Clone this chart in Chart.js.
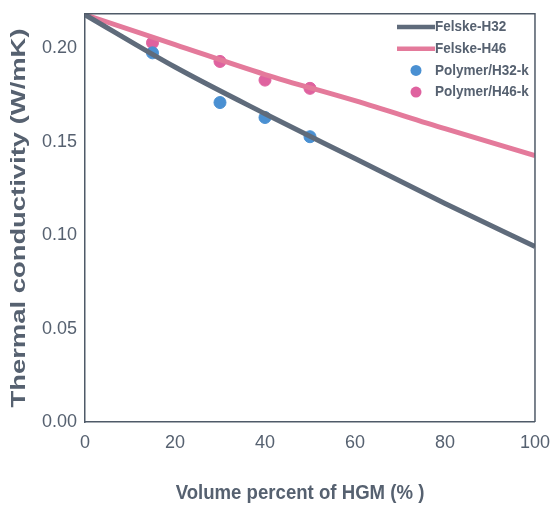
<!DOCTYPE html>
<html>
<head>
<meta charset="utf-8">
<script src="https://cdn.jsdelivr.net/npm/chart.js@4"></script>
<style>
  body { margin: 0; background: #fff; }
  #wrap { width: 552px; height: 508px; position: relative; }
</style>
</head>
<body>
<div id="wrap"><canvas id="chart"></canvas></div>
<script>
// model curves (Felske)
const modelX = [0, 20, 40, 60, 80, 100];
const felskeH32 = [0.218, 0.190, 0.165, 0.141, 0.117, 0.094];
const felskeH46 = [0.218, 0.202, 0.186, 0.172, 0.157, 0.1426];

// measured points
const measX = [15, 30, 40, 50];
const polyH32 = [0.1976, 0.171, 0.163, 0.1527];
const polyH46 = [0.203, 0.193, 0.183, 0.1786];

const xTicks = [0, 20, 40, 60, 80, 100];
const yTicks = [0, 0.05, 0.10, 0.15, 0.20];

const xTitle = "Volume percent of HGM (% )";
const yTitle = "Thermal conductivity (W/mK)";

const axisColor = "#4f5a68";
const textColor = "#566170";
const tickFont = { family: "'Liberation Sans', Arial", size: 18 };

const legendItems = [
    { label: "Felske-H32", type: "line", color: "#5f6b7b" },
    { label: "Felske-H46", type: "line", color: "#e47a9b" },
    { label: "Polymer/H32-k", type: "point", color: "#4a90d2" },
    { label: "Polymer/H46-k", type: "point", color: "#df629f" }
];

const pairs = (xs, ys) => xs.map((x, i) => ({ x: x, y: ys[i] }));

const framePlugin = {
    id: "frame",
    afterDraw(chart) {
        const ctx = chart.ctx;
        const a = chart.chartArea;
        ctx.save();
        ctx.strokeStyle = axisColor;
        ctx.lineWidth = 1.5;
        ctx.beginPath();
        ctx.moveTo(a.left, a.top);
        ctx.lineTo(a.right, a.top);
        ctx.lineTo(a.right, a.bottom);
        ctx.stroke();

        // axis titles (the original is stretched a bit vertically)
        ctx.fillStyle = textColor;
        ctx.textAlign = "center";
        ctx.textBaseline = "middle";
        ctx.font = "bold 20px 'Liberation Sans', Arial";
        ctx.save();
        ctx.translate(300, 493);
        ctx.scale(0.93, 1.05);
        ctx.fillText(xTitle, 0, 0);
        ctx.restore();

        ctx.save();
        ctx.translate(19, 218);
        ctx.rotate(-Math.PI / 2);
        ctx.scale(1.37, 1);
        ctx.fillText(yTitle, 0, 0);
        ctx.restore();

        // legend
        ctx.textAlign = "left";
        ctx.font = "bold 15px 'Liberation Sans', Arial";
        let y = 27;
        legendItems.forEach(item => {
            ctx.fillStyle = item.color;
            ctx.strokeStyle = item.color;
            if (item.type === "line") {
                ctx.lineWidth = 4.5;
                ctx.beginPath();
                ctx.moveTo(397, y);
                ctx.lineTo(435, y);
                ctx.stroke();
            } else {
                ctx.beginPath();
                ctx.arc(416, y, 5.5, 0, Math.PI * 2);
                ctx.fill();
            }
            ctx.fillStyle = textColor;
            ctx.save();
            ctx.translate(435, y);
            ctx.scale(0.9, 1);
            ctx.fillText(item.label, 0, 0);
            ctx.restore();
            y += 21.7;
        });
        ctx.restore();
    }
};

new Chart(document.getElementById("chart"), {
    type: "scatter",
    data: {
        datasets: [
            {
                label: "Felske-H32", type: "line", data: pairs(modelX, felskeH32),
                borderColor: "#5f6b7b", borderWidth: 5, pointRadius: 0, cubicInterpolationMode: "monotone"
            },
            {
                label: "Felske-H46", type: "line", data: pairs(modelX, felskeH46),
                borderColor: "#e47a9b", borderWidth: 5, pointRadius: 0, cubicInterpolationMode: "monotone"
            },
            {
                label: "Polymer/H32-k", data: pairs(measX, polyH32),
                backgroundColor: "#4a90d2", borderColor: "#4a90d2", pointRadius: 6
            },
            {
                label: "Polymer/H46-k", data: pairs(measX, polyH46),
                backgroundColor: "#df629f", borderColor: "#df629f", pointRadius: 6
            }
        ]
    },
    options: {
        responsive: true,
        maintainAspectRatio: false,
        animation: false,
        layout: { padding: { top: 8.5, right: 16, left: 0, bottom: 0 } },
        plugins: { legend: { display: false }, tooltip: { enabled: false } },
        scales: {
            x: {
                type: "linear", min: 0, max: 100,
                afterBuildTicks: s => { s.ticks = xTicks.map(v => ({ value: v })); },
                afterFit: s => { s.height = 86; },
                grid: { display: false, drawOnChartArea: false, drawTicks: true, tickLength: 8, tickColor: axisColor },
                border: { color: axisColor, width: 1.5 },
                ticks: { color: textColor, font: tickFont, padding: 2 },
                title: { display: false }
            },
            y: {
                type: "linear", min: 0, max: 0.2185,
                afterBuildTicks: s => { s.ticks = yTicks.map(v => ({ value: v })); },
                afterFit: s => { s.width = 85; },
                grid: { display: false, drawOnChartArea: false, drawTicks: true, tickLength: 5, tickColor: axisColor },
                border: { color: axisColor, width: 1.5 },
                ticks: { color: textColor, font: tickFont, padding: 3, callback: v => v.toFixed(2) },
                title: { display: false }
            }
        }
    },
    plugins: [framePlugin]
});
</script>
</body>
</html>
